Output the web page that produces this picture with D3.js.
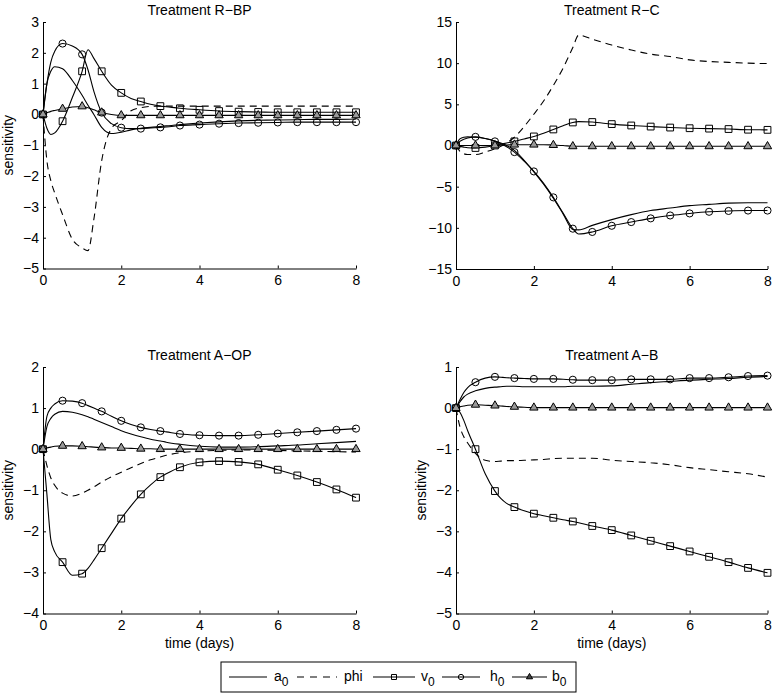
<!DOCTYPE html>
<html><head><meta charset="utf-8">
<script src="https://cdn.jsdelivr.net/npm/d3@7"></script>
<style>
body{margin:0;background:#fff}
text{font-family:"Liberation Sans",Arial,Helvetica,sans-serif;fill:#000}
</style>
</head><body>
<svg id="chart" width="777" height="697"></svg>
<script>
// ---------- DATA ----------
const time = [0,0.1,0.2,0.3,0.5,0.75,1,1.15,1.3,1.5,1.75,2,2.25,2.5,2.75,3,3.15,3.5,4,4.5,5,5.5,6,6.5,7,7.5,8];
const seriesNames = ["a0","phi","v0","h0","b0"];
const legendMain = ["a","phi","v","h","b"];
const legendSub = ["0","","0","0","0"];
const titles = ["Treatment R\u2212BP","Treatment R\u2212C","Treatment A\u2212OP","Treatment A\u2212B"];
const xTicks = [0,2,4,6,8];
const yTicksRBP = [-5,-4,-3,-2,-1,0,1,2,3];
const yTicksRC = [-15,-10,-5,0,5,10,15];
const yTicksAOP = [-4,-3,-2,-1,0,1,2];
const yTicksAB = [-5,-4,-3,-2,-1,0,1];

// Treatment R-BP
const rbpA0  = [0,1.0,1.4,1.55,1.48,1.1,0.62,0.3,0.0,-0.42,-0.62,-0.58,-0.5,-0.45,-0.42,-0.39,-0.37,-0.33,-0.28,-0.24,-0.21,-0.19,-0.18,-0.17,-0.16,-0.16,-0.15];
const rbpPhi = [0,-1.5,-2.15,-2.55,-3.25,-4.05,-4.33,-4.42,-3.4,-1.5,-0.45,-0.2,0.12,0.22,0.26,0.27,0.27,0.27,0.27,0.27,0.27,0.27,0.27,0.27,0.27,0.27,0.27];
const rbpV0  = [0,-0.45,-0.65,-0.6,-0.22,0.55,1.4,2.1,1.82,1.4,0.95,0.7,0.52,0.42,0.33,0.27,0.25,0.2,0.15,0.11,0.09,0.08,0.07,0.07,0.07,0.07,0.07];
const rbpH0  = [0,1.0,1.7,2.05,2.3,2.22,1.95,1.45,0.75,0.06,-0.3,-0.43,-0.46,-0.46,-0.44,-0.42,-0.41,-0.36,-0.33,-0.3,-0.28,-0.27,-0.26,-0.25,-0.25,-0.25,-0.25];
const rbpB0  = [0,0.05,0.1,0.13,0.18,0.24,0.26,0.22,0.15,0.06,0.0,-0.03,-0.03,-0.03,-0.03,-0.03,-0.03,-0.03,-0.03,-0.03,-0.03,-0.03,-0.03,-0.03,-0.03,-0.03,-0.03];

// Treatment R-C
const rcA0  = [0,0.8,1.0,1.05,1.0,0.85,0.55,0.3,0.0,-0.6,-1.8,-3.2,-4.7,-6.4,-8.3,-10.2,-10.25,-9.7,-9.0,-8.4,-7.9,-7.6,-7.3,-7.15,-7.0,-6.95,-6.95];
const rcPhi = [0,-0.7,-1.0,-1.1,-1.1,-0.8,-0.4,-0.1,0.3,1.0,2.3,3.8,5.4,7.3,9.4,11.9,13.4,12.9,12.2,11.6,11.1,10.8,10.4,10.2,10.1,10.0,9.95];
const rcV0  = [0,-0.1,-0.2,-0.27,-0.3,-0.2,0.0,0.15,0.3,0.5,0.8,1.1,1.5,1.95,2.4,2.8,2.9,2.85,2.6,2.43,2.3,2.18,2.1,2.05,2.0,1.92,1.9];
const rcH0  = [0,0.5,0.75,0.9,1.05,0.85,0.5,0.2,-0.15,-0.8,-1.9,-3.15,-4.6,-6.3,-8.2,-10.1,-10.75,-10.5,-9.75,-9.3,-8.85,-8.5,-8.25,-8.05,-7.95,-7.9,-7.9];
const rcB0  = [0,0,0,0,0,0,0,0.03,0.06,0.1,0.1,0.1,0.1,0.05,0,-0.1,-0.1,-0.1,-0.1,-0.1,-0.1,-0.1,-0.1,-0.1,-0.1,-0.1,-0.1];

// Treatment A-OP
const aopA0  = [0,0.55,0.75,0.85,0.92,0.9,0.84,0.79,0.73,0.65,0.55,0.45,0.37,0.3,0.24,0.2,0.17,0.12,0.07,0.05,0.05,0.06,0.08,0.1,0.13,0.16,0.19];
const aopPhi = [0,-0.4,-0.7,-0.88,-1.07,-1.14,-1.07,-1.0,-0.92,-0.8,-0.67,-0.56,-0.45,-0.35,-0.26,-0.19,-0.15,-0.09,-0.05,-0.03,-0.02,-0.02,-0.03,-0.04,-0.05,-0.06,-0.07];
const aopV0  = [0,-1.1,-2.2,-2.5,-2.75,-3.07,-3.03,-2.9,-2.7,-2.41,-2.05,-1.69,-1.38,-1.1,-0.87,-0.68,-0.6,-0.44,-0.32,-0.29,-0.31,-0.37,-0.5,-0.64,-0.8,-0.98,-1.18];
const aopH0  = [0,0.8,1.0,1.1,1.18,1.17,1.12,1.06,1.0,0.92,0.8,0.69,0.6,0.53,0.48,0.44,0.42,0.37,0.34,0.33,0.33,0.35,0.38,0.41,0.44,0.47,0.5];
const aopB0  = [0,0.03,0.05,0.07,0.08,0.08,0.07,0.06,0.05,0.04,0.03,0.03,0.02,0.01,0.01,0,0,0,0,0,0,0,0,0,0,0,0];

// Treatment A-B
const abA0  = [0,0.15,0.27,0.34,0.42,0.48,0.51,0.52,0.53,0.53,0.52,0.52,0.52,0.52,0.52,0.53,0.53,0.53,0.54,0.58,0.62,0.65,0.68,0.7,0.72,0.75,0.77];
const abPhi = [0,-0.45,-0.7,-0.85,-1.1,-1.27,-1.3,-1.29,-1.28,-1.28,-1.27,-1.26,-1.25,-1.23,-1.22,-1.22,-1.22,-1.22,-1.27,-1.3,-1.33,-1.38,-1.45,-1.5,-1.55,-1.6,-1.68];
const abV0  = [0,-0.1,-0.3,-0.55,-1.0,-1.6,-2.02,-2.2,-2.32,-2.41,-2.5,-2.57,-2.62,-2.67,-2.72,-2.76,-2.79,-2.87,-2.97,-3.1,-3.23,-3.36,-3.49,-3.62,-3.75,-3.89,-4.01];
const abH0  = [0,0.2,0.38,0.5,0.63,0.73,0.76,0.75,0.74,0.73,0.72,0.71,0.71,0.71,0.7,0.69,0.68,0.68,0.68,0.7,0.7,0.7,0.73,0.73,0.75,0.78,0.79];
const abB0  = [0,0.03,0.05,0.07,0.08,0.07,0.06,0.05,0.04,0.03,0.02,0.01,0.01,0.01,0.01,0.01,0.01,0.01,0.01,0.01,0.01,0.01,0.01,0.01,0.01,0.01,0.01];

// ---------- LAYOUT ----------
const panels = [
  {title:titles[0], yTicks:yTicksRBP, series:[rbpA0,rbpPhi,rbpV0,rbpH0,rbpB0], x0:43,  x1:356,   y0:22,  y1:268.5, ylab:true,  xlab:false},
  {title:titles[1], yTicks:yTicksRC,  series:[rcA0,rcPhi,rcV0,rcH0,rcB0],       x0:456, x1:767.5, y0:22,  y1:269,   ylab:false, xlab:false},
  {title:titles[2], yTicks:yTicksAOP, series:[aopA0,aopPhi,aopV0,aopH0,aopB0],  x0:43,  x1:356,   y0:367, y1:613.5, ylab:true,  xlab:true},
  {title:titles[3], yTicks:yTicksAB,  series:[abA0,abPhi,abV0,abH0,abB0],       x0:456, x1:767.5, y0:367, y1:613.5, ylab:true,  xlab:true}
];
const markerType = [null,null,d3.symbolSquare,d3.symbolCircle,d3.symbolTriangle];
const markerSize = [0,0,46,40,30];
const markerFill = ["none","none","none","none","#999"];

const svg = d3.select("#chart");

panels.forEach(p => {
  const x = d3.scaleLinear().domain([0,8]).range([p.x0,p.x1]);
  const y = d3.scaleLinear().domain([p.yTicks[0], p.yTicks[p.yTicks.length-1]]).range([p.y1,p.y0]);
  const g = svg.append("g");

  const ax = g.append("g").attr("transform",`translate(0,${p.y1})`)
    .call(d3.axisBottom(x).tickValues(xTicks).tickFormat(d3.format("d")).tickSizeInner(-3).tickSizeOuter(0).tickPadding(7));
  const ay = g.append("g").attr("transform",`translate(${p.x0},0)`)
    .call(d3.axisLeft(y).tickValues(p.yTicks).tickFormat(d3.format("d")).tickSizeInner(-3).tickSizeOuter(0).tickPadding(4));
  [ax,ay].forEach(a => {
    a.selectAll("text").attr("font-size",14).attr("font-family","Liberation Sans, Arial, sans-serif").attr("fill","#000");
    a.select(".domain").attr("stroke","#000").attr("stroke-width",1);
    a.selectAll(".tick line").attr("stroke","#000");
  });

  g.append("text").attr("x",(p.x0+p.x1)/2).attr("y",p.y0-7.5).attr("text-anchor","middle").attr("font-size",14).text(p.title);
  if (p.ylab) {
    g.append("text").attr("transform",`translate(${p.x0-30},${(p.y0+p.y1)/2}) rotate(-90)`)
      .attr("text-anchor","middle").attr("font-size",14).text("sensitivity");
  }
  if (p.xlab) {
    g.append("text").attr("x",(p.x0+p.x1)/2).attr("y",p.y1+34).attr("text-anchor","middle").attr("font-size",14).text("time (days)");
  }

  p.series.forEach((vals,si) => {
    const pts = time.map((t,i) => [t, vals[i]]);
    const line = d3.line().x(d => x(d[0])).y(d => y(d[1])).curve(d3.curveMonotoneX);
    g.append("path").attr("d", line(pts)).attr("fill","none").attr("stroke","#000")
      .attr("stroke-width",1.1).attr("stroke-dasharray", si===1 ? "7,5" : null);
    if (markerType[si]) {
      const mpts = pts.filter(d => Math.abs(d[0]*2 - Math.round(d[0]*2)) < 1e-9);
      g.selectAll(null).data(mpts).enter().append("path")
        .attr("d", d3.symbol().type(markerType[si]).size(markerSize[si])())
        .attr("transform", d => `translate(${x(d[0])},${y(d[1])})`)
        .attr("fill", markerFill[si]).attr("stroke","#000").attr("stroke-width",1);
    }
  });
});

// ---------- LEGEND ----------
const lg = svg.append("g");
lg.append("rect").attr("x",221).attr("y",662).attr("width",355).attr("height",30)
  .attr("fill","#fff").attr("stroke","#000").attr("stroke-width",1);
const legLine = [[229,267],[297,337],[373,415],[442,480],[512,547]];
const legText = [274,344,421,490,552];
const ly = 677;
seriesNames.forEach((s,i) => {
  lg.append("line").attr("x1",legLine[i][0]).attr("x2",legLine[i][1]).attr("y1",ly).attr("y2",ly)
    .attr("stroke","#000").attr("stroke-width",1.1).attr("stroke-dasharray", i===1 ? "7,6" : null);
  if (markerType[i]) {
    lg.append("path").attr("d", d3.symbol().type(markerType[i]).size(markerSize[i]*0.55)())
      .attr("transform",`translate(${(legLine[i][0]+legLine[i][1])/2},${ly})`)
      .attr("fill", i===4 ? "#444" : "none").attr("stroke","#000");
  }
  const t = lg.append("text").attr("x",legText[i]).attr("y",ly+4).attr("font-size",14);
  t.append("tspan").text(legendMain[i]);
  if (legendSub[i]) t.append("tspan").attr("dy",5).attr("font-size",12).text(legendSub[i]);
});
</script>
</body></html>
